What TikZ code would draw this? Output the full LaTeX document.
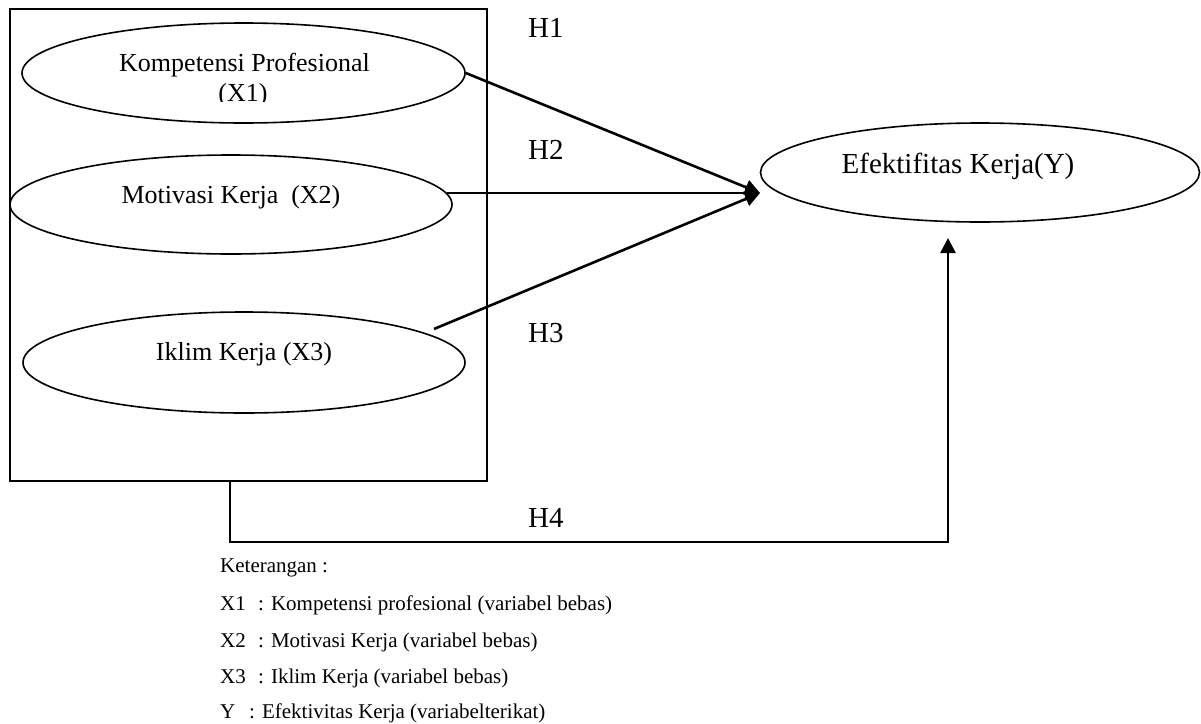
\documentclass[tikz,border=0pt]{standalone}
\usepackage{fontspec}
\setmainfont{Liberation Serif}
\usetikzlibrary{shapes.geometric,arrows.meta}
\begin{document}
\begin{tikzpicture}[x=1pt,y=-1pt,
  oval/.style={ellipse,draw,line width=1.6pt,inner sep=0pt},
  frame/.style={draw,line width=2pt,inner sep=0pt},
  lbl/.style={font=\fontsize{26}{31}\selectfont,anchor=base,inner sep=0pt},
  ylbl/.style={font=\fontsize{29}{34}\selectfont,anchor=base,inner sep=0pt},
  hlbl/.style={font=\fontsize{29}{34}\selectfont,anchor=base west,inner sep=0pt},
  leg/.style={font=\fontsize{21}{25}\selectfont,anchor=base west,inner sep=0pt},
  conn/.style={line width=2.6pt},
  tip/.style={-{Triangle[length=15pt,width=15pt]}}
]
\useasboundingbox (0,0) rectangle (1201,723);
% frame
\node[frame,minimum width=477pt,minimum height=472pt] (box) at (248.5,245) {};
% ellipses
\node[oval,minimum width=443pt,minimum height=100pt] (e1) at (243.5,73) {};
\node[oval,minimum width=442pt,minimum height=99pt] (e2) at (231,204.5) {};
\node[oval,minimum width=442pt,minimum height=101pt] (e3) at (244,362.5) {};
\node[oval,minimum width=439pt,minimum height=99pt] (ey) at (980,172.5) {};
% ellipse texts
\node[lbl] (t1) at (244.5,71) {Kompetensi Profesional};
\begin{scope}
\clip (0,0) rectangle (1201,101);
\node[lbl] (t1b) at (243,101.5) {(X1)};
\end{scope}
\node[lbl] (t2) at (231,203) {Motivasi Kerja\ \ (X2)};
\node[lbl] (t3) at (244,360) {Iklim Kerja (X3)};
\node[ylbl] (ty) at (958,173) {Efektifitas Kerja(Y)};
% hypothesis labels
\node[hlbl] (h1) at (528,37) {H1};
\node[hlbl] (h2) at (528,159) {H2};
\node[hlbl] (h3) at (528,342) {H3};
\node[hlbl] (h4) at (528,527) {H4};
% connector coordinates
\coordinate (meet) at (760,193);
\coordinate (s3) at (434,329);
\coordinate (b4) at (230,481);
\coordinate (c4) at (948,542);
\coordinate (up) at (948,238);
% connectors
\draw[conn,tip] (e1.east) -- (meet);
\draw[conn,tip] (e2.east |- meet) ++(-6,0) -- (meet);
\draw[conn,tip] (s3) -- (meet);
\draw[conn,tip] (b4) |- (c4) -- (up);
% legend
\node[leg] (k) at (220,572) {Keterangan :};
\node[leg] (l1) at (220,610) {X1};
\node[leg] (d1) at (258,610) {: Kompetensi profesional (variabel bebas)};
\node[leg] (l2) at (220,647) {X2};
\node[leg] (d2) at (258,647) {: Motivasi Kerja (variabel bebas)};
\node[leg] (l3) at (220,683) {X3};
\node[leg] (d3) at (258,683) {: Iklim Kerja (variabel bebas)};
\node[leg] (l4) at (220,718) {Y};
\node[leg] (d4) at (249,718) {: Efektivitas Kerja (variabelterikat)};
\end{tikzpicture}
\end{document}
